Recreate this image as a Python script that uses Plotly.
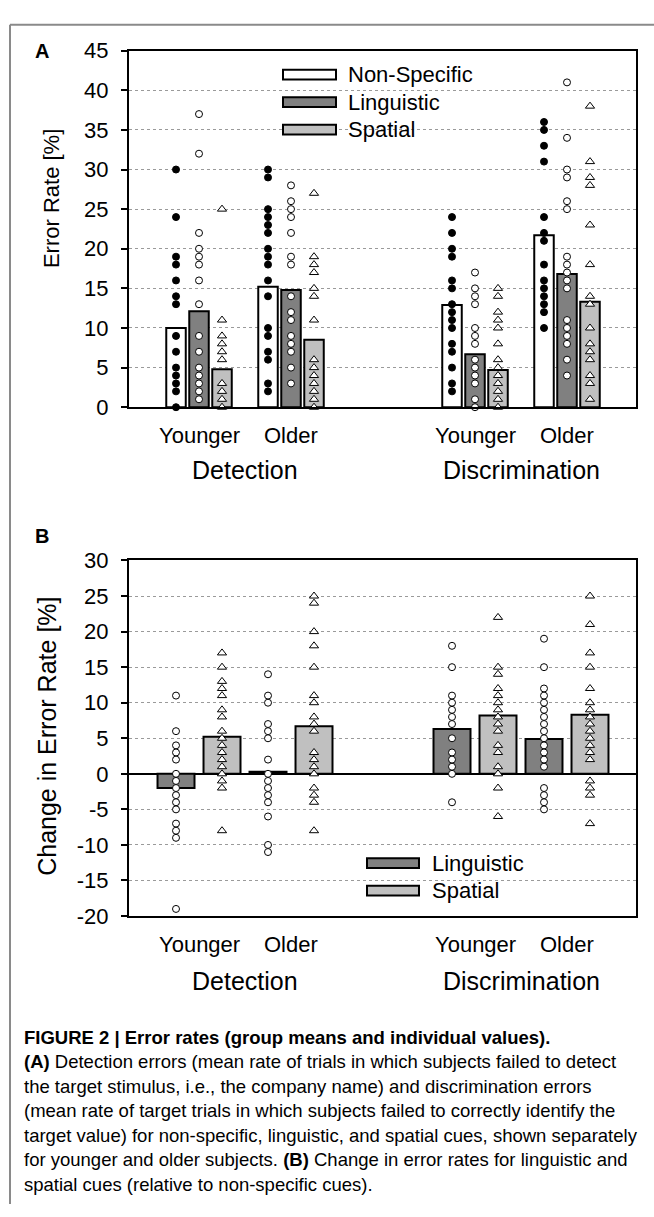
import plotly.graph_objects as go

W, H = 654, 1217

# ---------------- data ----------------
age_labels = ["Younger", "Older", "Younger", "Older"]
task_labels = ["Detection", "Discrimination"]

# Panel A: error rates [%]
nonspec_mean = [10.0, 15.2, 12.9, 21.7]
ling_mean = [12.1, 14.8, 6.7, 16.8]
spat_mean = [4.8, 8.5, 4.7, 13.3]

nonspec_ind = [
    [30, 24, 19, 18, 16, 14, 13, 9, 7, 5, 4, 3, 2, 0],
    [30, 29, 25, 24, 23, 22, 20, 19, 18, 16, 14, 10, 9, 7, 6, 3, 2],
    [24, 22, 20, 19, 16, 15, 13, 12, 11, 10, 8, 7, 5, 3, 2],
    [36, 35, 33, 31, 24, 22, 21, 18, 16, 15, 14, 13, 12, 10],
]
ling_ind = [
    [37, 32, 22, 20, 19, 18, 16, 13, 9, 7, 5, 4, 3, 2, 1],
    [28, 26, 25, 24, 22, 19, 18, 14, 12, 11, 9, 8, 7, 5, 3],
    [17, 15, 14, 13, 10, 9, 8, 6, 5, 4, 3, 1, 0],
    [41, 34, 30, 29, 26, 25, 19, 18, 17, 16, 15, 11, 10, 9, 8, 6, 4],
]
spat_ind = [
    [25, 11, 9, 8, 7, 6, 3, 2, 1, 0],
    [27, 19, 18, 17, 15, 14, 11, 6, 5, 4, 3, 2, 1, 0],
    [15, 14, 12, 11, 10, 8, 6, 5, 4, 3, 2, 1, 0],
    [38, 31, 29, 28, 23, 18, 14, 13, 10, 8, 7, 6, 4, 3, 1],
]

# Panel B: change in error rate [%]
ling_change_mean = [-2.0, 0.3, 6.3, 4.9]
spat_change_mean = [5.2, 6.7, 8.2, 8.3]

ling_change_ind = [
    [11, 6, 4, 3, 2, 0, -1, -2, -3, -4, -5, -7, -8, -9, -19],
    [14, 11, 10, 7, 6, 5, 2, 0, -1, -2, -3, -4, -6, -10, -11],
    [18, 15, 11, 10, 9, 8, 7, 5, 3, 2, 1, 0, -4],
    [19, 15, 12, 11, 10, 9, 8, 7, 6, 5, 4, 3, 2, 1, -2, -3, -4, -5],
]
spat_change_ind = [
    [17, 15, 13, 12, 11, 9, 8, 6, 5, 4, 3, 2, 1, 0, -1, -2, -8],
    [25, 24, 20, 18, 15, 11, 10, 8, 7, 6, 3, 2, 1, 0, -2, -3, -4, -8],
    [22, 15, 14, 12, 11, 10, 9, 8, 7, 6, 4, 3, 1, 0, -2, -6],
    [25, 21, 17, 15, 12, 10, 9, 8, 7, 6, 5, 4, 3, 2, -1, -2, -3, -7],
]

ticks_a = [0, 5, 10, 15, 20, 25, 30, 35, 40, 45]
ticks_b = [-20, -15, -10, -5, 0, 5, 10, 15, 20, 25, 30]

legend_a = ["Non-Specific", "Linguistic", "Spatial"]
legend_b = ["Linguistic", "Spatial"]

caption_lines = [
    "<b>FIGURE 2 | Error rates (group means and individual values).</b>",
    "<b>(A)</b> Detection errors (mean rate of trials in which subjects failed to detect",
    "the target stimulus, i.e., the company name) and discrimination errors",
    "(mean rate of target trials in which subjects failed to correctly identify the",
    "target value) for non-specific, linguistic, and spatial cues, shown separately",
    "for younger and older subjects. <b>(B)</b> Change in error rates for linguistic and",
    "spatial cues (relative to non-specific cues).",
]

# ---------------- styling ----------------
FONT = "Liberation Sans, Arial, sans-serif"
C_NON, C_LING, C_SPAT = "#ffffff", "#808080", "#c0c0c0"


def xp(px):
    return px / W


def yp(py):
    return 1 - py / H


# category centre positions (gap of one slot between tasks)
pos = [t * 3 + a + 1 for t in range(2) for a in range(2)]
XR = [0.239, 5.75]

fig = go.Figure()


def add_bars(vals, off, width, color, xa, ya):
    fig.add_trace(go.Bar(
        x=[p + off for p in pos], y=vals, width=width,
        marker=dict(color=color, line=dict(color="black", width=2)),
        xaxis=xa, yaxis=ya, showlegend=False, hoverinfo="skip"))


def add_points(ind, off, symbol, fill, size, xa, ya):
    xs, ys = [], []
    for p, vals in zip(pos, ind):
        xs += [p + off] * len(vals)
        ys += vals
    fig.add_trace(go.Scatter(
        x=xs, y=ys, mode="markers", cliponaxis=False,
        marker=dict(symbol=symbol, size=size, color=fill,
                    line=dict(color="black", width=1)),
        xaxis=xa, yaxis=ya, showlegend=False, hoverinfo="skip"))


# Panel A
wa = 0.212
add_bars(nonspec_mean, -0.25, wa, C_NON, "x", "y")
add_bars(ling_mean, 0.0, wa, C_LING, "x", "y")
add_bars(spat_mean, 0.25, wa, C_SPAT, "x", "y")
add_points(nonspec_ind, -0.25, "circle", "black", 7, "x", "y")
add_points(ling_ind, 0.0, "circle", "white", 7, "x", "y")
add_points(spat_ind, 0.25, "triangle-up", "white", 8, "x", "y")

# Panel B
wb = 0.402
add_bars(ling_change_mean, -0.25, wb, C_LING, "x2", "y2")
add_bars(spat_change_mean, 0.25, wb, C_SPAT, "x2", "y2")
add_points(ling_change_ind, -0.25, "circle", "white", 7, "x2", "y2")
add_points(spat_change_ind, 0.25, "triangle-up", "white", 8, "x2", "y2")

xcommon = dict(range=XR, showgrid=False, zeroline=False, showline=True,
               linecolor="black", linewidth=2, mirror=True,
               showticklabels=False, ticks="", fixedrange=True)
ycommon = dict(showline=True, linecolor="black", linewidth=2,
               mirror=True, ticks="outside", ticklen=6, tickwidth=2,
               tickcolor="black", showgrid=True, gridcolor="#9a9a9a",
               gridwidth=1, griddash="dot",
               tickfont=dict(family=FONT, size=22, color="black"),
               ticklabelstandoff=8)

fig.update_layout(
    width=W, height=H, margin=dict(l=0, r=0, t=0, b=0),
    paper_bgcolor="white", plot_bgcolor="white",
    barmode="overlay", showlegend=False,
    font=dict(family=FONT, color="black"),
    xaxis=dict(domain=[xp(129), xp(636)], anchor="y", **xcommon),
    yaxis=dict(domain=[yp(403.5), yp(39.5)], anchor="x", range=[0, 45],
               tickvals=ticks_a, ticktext=[str(v) for v in ticks_a],
               zeroline=False, **ycommon),
    xaxis2=dict(domain=[xp(129), xp(636)], anchor="y2", **xcommon),
    yaxis2=dict(domain=[yp(923), yp(560)], anchor="x2", range=[-20, 30],
                tickvals=ticks_b, ticktext=[str(v) for v in ticks_b],
                zeroline=True, zerolinecolor="black", zerolinewidth=2,
                **ycommon),
)

shapes = []
annos = []

# outer frame
shapes.append(dict(type="line", xref="paper", yref="paper", x0=xp(10), x1=xp(10),
                   y0=yp(13), y1=yp(1217), line=dict(color="#8a8a8a", width=2)))
shapes.append(dict(type="line", xref="paper", yref="paper", x0=xp(10), x1=xp(654),
                   y0=yp(13), y1=yp(13), line=dict(color="#8a8a8a", width=2)))


def legend(x0, x1, y0, y1, sw_x0, sw_x1, tx, rows, labels, colors):
    shapes.append(dict(type="rect", xref="paper", yref="paper", layer="between",
                       x0=xp(x0), x1=xp(x1), y0=yp(y1), y1=yp(y0),
                       fillcolor="white", line=dict(width=0)))
    for cy, lab, col in zip(rows, labels, colors):
        shapes.append(dict(type="rect", xref="paper", yref="paper", layer="above",
                           x0=xp(sw_x0), x1=xp(sw_x1), y0=yp(cy + 5), y1=yp(cy - 5),
                           fillcolor=col, line=dict(color="black", width=2)))
        annos.append(dict(text=lab, xref="paper", yref="paper", x=xp(tx), y=yp(cy),
                          xanchor="left", yanchor="middle", showarrow=False,
                          font=dict(family=FONT, size=22, color="black")))


legend(272, 497, 45, 140, 283, 336, 346, [64, 92, 120], legend_a, [C_NON, C_LING, C_SPAT])
legend(359, 544, 835, 918, 367, 419, 430, [869, 897], legend_b, [C_LING, C_SPAT])

# category labels
for xa, y_age, y_task in (("x", 432, 468), ("x2", 952, 989)):
    for p, lab in zip(pos, age_labels):
        annos.append(dict(text=lab, xref=xa, yref="paper", x=p, y=yp(y_age),
                          xanchor="center", yanchor="middle", showarrow=False,
                          font=dict(family=FONT, size=22, color="black")))
    for t, lab in enumerate(task_labels):
        annos.append(dict(text=lab, xref=xa, yref="paper",
                          x=(pos[2 * t] + pos[2 * t + 1]) / 2, y=yp(y_task),
                          xanchor="center", yanchor="middle", showarrow=False,
                          font=dict(family=FONT, size=25, color="black")))

# axis titles
annos.append(dict(text="Error Rate [%]", xref="paper", yref="paper", x=xp(51), y=yp(191),
                  textangle=-90, xanchor="center", yanchor="middle", showarrow=False,
                  font=dict(family=FONT, size=22, color="black")))
annos.append(dict(text="Change in Error Rate [%]", xref="paper", yref="paper", x=xp(47),
                  y=yp(740), textangle=-90, xanchor="center", yanchor="middle",
                  showarrow=False, font=dict(family=FONT, size=25, color="black")))

# panel letters
for lab, y in (("<b>A</b>", 40), ("<b>B</b>", 535)):
    annos.append(dict(text=lab, xref="paper", yref="paper", x=xp(42), y=yp(y),
                      xanchor="center", yanchor="middle", showarrow=False,
                      font=dict(family=FONT, size=20, color="black")))

# caption
for i, line in enumerate(caption_lines):
    annos.append(dict(text=line, xref="paper", yref="paper", x=xp(22), y=yp(1047 + 25 * i),
                      xanchor="left", yanchor="middle", showarrow=False,
                      font=dict(family=FONT, size=18.5, color="black")))

fig.update_layout(shapes=shapes, annotations=annos)
fig.write_html("out.html")
